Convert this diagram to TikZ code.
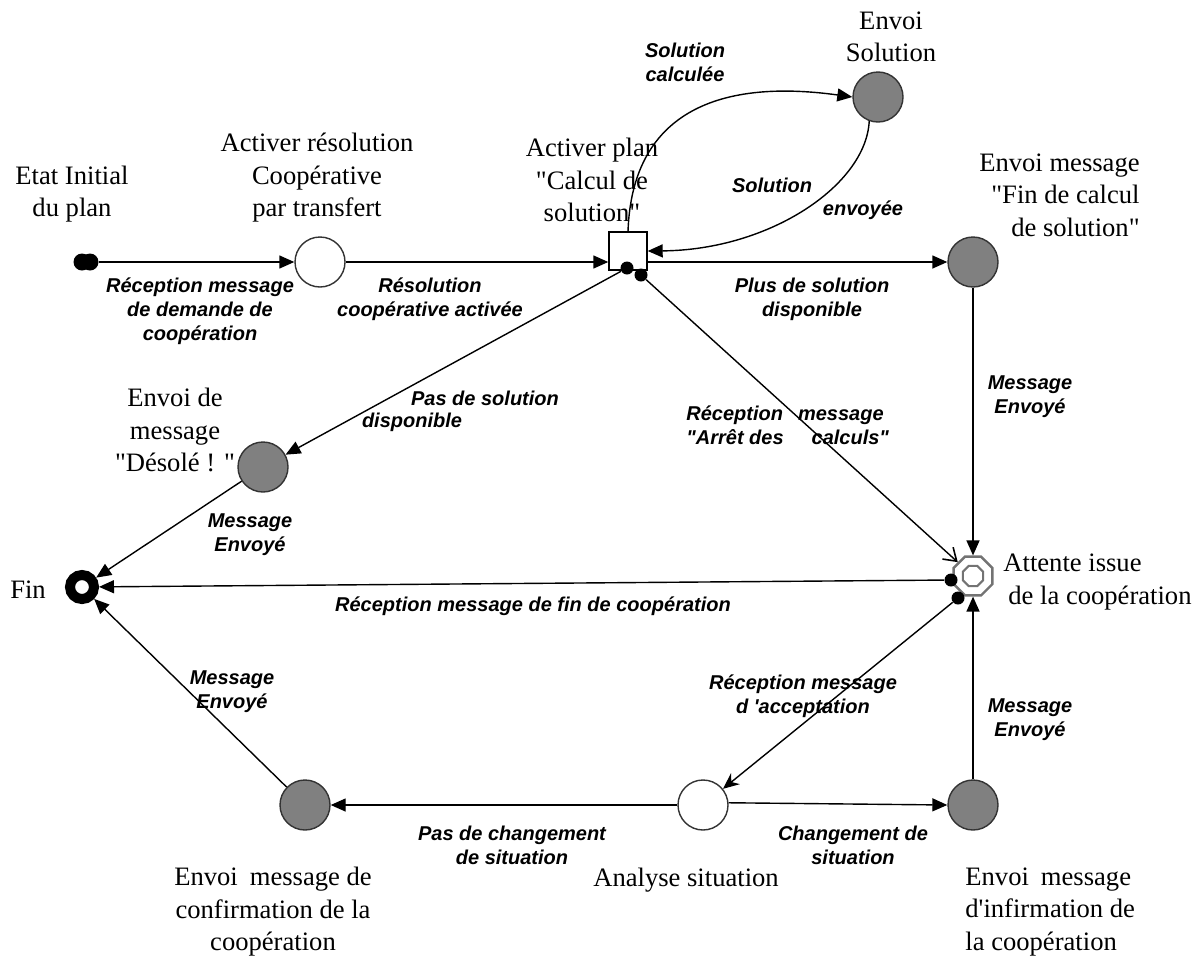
\documentclass[tikz,border=0pt]{standalone}
\usepackage{fontspec}
\newfontfamily\serfont{Liberation Serif}
\newfontfamily\labfont{Liberation Sans}
\usetikzlibrary{arrows.meta,shapes.geometric}

\tikzset{
  state/.style={circle,draw=black!80,line width=0.7pt,minimum size=25pt,inner sep=0pt},
  gstate/.style={state,fill=black!50},
  wstate/.style={state,fill=white},
  blob/.style={circle,fill=black,minimum size=6.5pt,inner sep=0pt},
  bigblob/.style={blob,minimum size=8.5pt},
  lbl/.style={font=\labfont\bfseries\itshape\fontsize{10}{12}\selectfont,align=center,inner sep=0pt},
  txt/.style={font=\serfont\fontsize{13.3}{16.25}\selectfont,align=center,inner sep=0pt},
  trans/.style={line width=0.7pt,-{Triangle[length=7.5pt,width=6.5pt]}},
  transv/.style={line width=0.7pt,-{Stealth[length=8pt,width=7pt]}},
  transo/.style={line width=0.7pt,-{Straight Barb[length=6pt,width=8pt,line width=0.8pt]}},
}

\begin{document}
\begin{tikzpicture}[x=0.5pt,y=-0.5pt]
\useasboundingbox (0,0) rectangle (1202,958);

% states
\node[bigblob] (init) at (82,262) {};
\node[bigblob] (initb) at (90,262) {};
\node[wstate] (act) at (320,262) {};
\node[rectangle,draw,line width=0.7pt,fill=white,minimum size=19pt,inner sep=0pt] (sq) at (628,251) {};
\node[blob] (sqd1) at (627,268) {};
\node[blob] (sqd2) at (641,275) {};
\node[gstate] (es) at (878,97) {};
\node[gstate] (fdc) at (973,262) {};
\node[gstate] (des) at (263,467) {};
\node[circle,draw,line width=5pt,minimum size=12pt,inner sep=0pt] (fin) at (82,587) {};
\node[regular polygon,regular polygon sides=8,draw=black!55,line width=1.2pt,fill=white,minimum size=21pt,inner sep=0pt] (oct) at (973,576) {};
\node[regular polygon,regular polygon sides=8,draw=black!55,line width=1pt,minimum size=11pt,inner sep=0pt] (octin) at (973,576) {};
\node[blob] (octd1) at (951,580) {};
\node[blob] (octd2) at (958,598) {};
\node[wstate] (ana) at (703,805) {};
\node[gstate] (conf) at (305,805) {};
\node[gstate] (inf) at (973,805) {};

% state names
\node[txt] (tinit) at (72,194) {Etat Initial\\du plan};
\node[txt] (tact) at (317,178) {Activer résolution\\Coopérative\\par transfert};
\node[txt] (tsq) at (592,180) {Activer plan\\"Calcul de\\solution"};
\node[txt] (tes) at (891,37) {Envoi\\Solution};
\node[txt,align=right,anchor=east] (tfdc) at (1140,195) {Envoi message\\"Fin de calcul\\de solution"};
\node[txt] (tdes) at (175,430) {Envoi de\\message\\"Désolé ! "};
\node[txt] (tfin) at (28,590) {Fin};
\node[txt,align=left,anchor=west] (toct) at (1003,582) {Attente issue\\\hspace{2.5pt}de la coopération};
\node[txt] (tconf) at (273,912) {Envoi\hspace{6pt}message de\\confirmation de la\\coopération};
\node[txt] (tana) at (686,880) {Analyse situation};
\node[txt,align=left,anchor=west] (tinf) at (965,912) {Envoi\hspace{6pt}message\\d'infirmation de\\la coopération};

% transitions
\draw[trans] (initb) -- (act);
\draw[trans] (act) -- (sq.west |- act.east);
\draw[trans] (sq.north) .. controls (632,115) and (715,78) .. (es.west);
\draw[trans] (es.-110) .. controls (866,185) and (770,250) .. (sq.east);
\draw[trans] (sq.east |- fdc.west) -- (fdc.west);
\draw[trans] (sqd1) -- (des);
\draw[transo] (sqd2) -- (oct);
\draw[trans] (fdc) -- (oct.north);
\draw[trans] (des) -- (fin);
\draw[trans] (octd1) -- (fin);
\draw[transv] (octd2) -- (ana);
\draw[trans] (ana.west) -- (conf.east);
\draw[trans] (ana.5) -- (inf.west);
\draw[trans] (conf) -- (fin);
\draw[trans] (inf) -- (oct.south);

% transition labels
\node[lbl] (l1) at (200,311) {Réception message\\de demande de\\coopération};
\node[lbl] (l2) at (430,299) {Résolution\\coopérative activée};
\node[lbl] (l3) at (685,62) {Solution\\calculée};
\node[lbl] (l4a) at (772,185) {Solution};
\node[lbl] (l4b) at (863,210) {envoyée};
\node[lbl] (l5) at (812,299) {Plus de solution\\disponible};
\node[lbl] (l6) at (1030,397) {Message\\Envoyé};
\node[lbl] (l7a) at (485,398) {Pas de solution};
\node[lbl] (l7b) at (412,422) {disponible};
\node[lbl,align=left,anchor=west] (l8) at (686,425) {Réception\hspace{7.5pt}message\\"Arrêt des\hspace{14pt}calculs"};
\node[lbl] (l9) at (250,535) {Message\\Envoyé};
\node[lbl] (l10) at (533,606) {Réception message de fin de coopération};
\node[lbl] (l11) at (232,692) {Message\\Envoyé};
\node[lbl] (l12) at (803,696) {Réception message\\d 'acceptation};
\node[lbl] (l13) at (1030,720) {Message\\Envoyé};
\node[lbl] (l14) at (512,845) {Pas de changement\\de situation};
\node[lbl] (l15) at (853,845) {Changement de\\situation};
\end{tikzpicture}
\end{document}
